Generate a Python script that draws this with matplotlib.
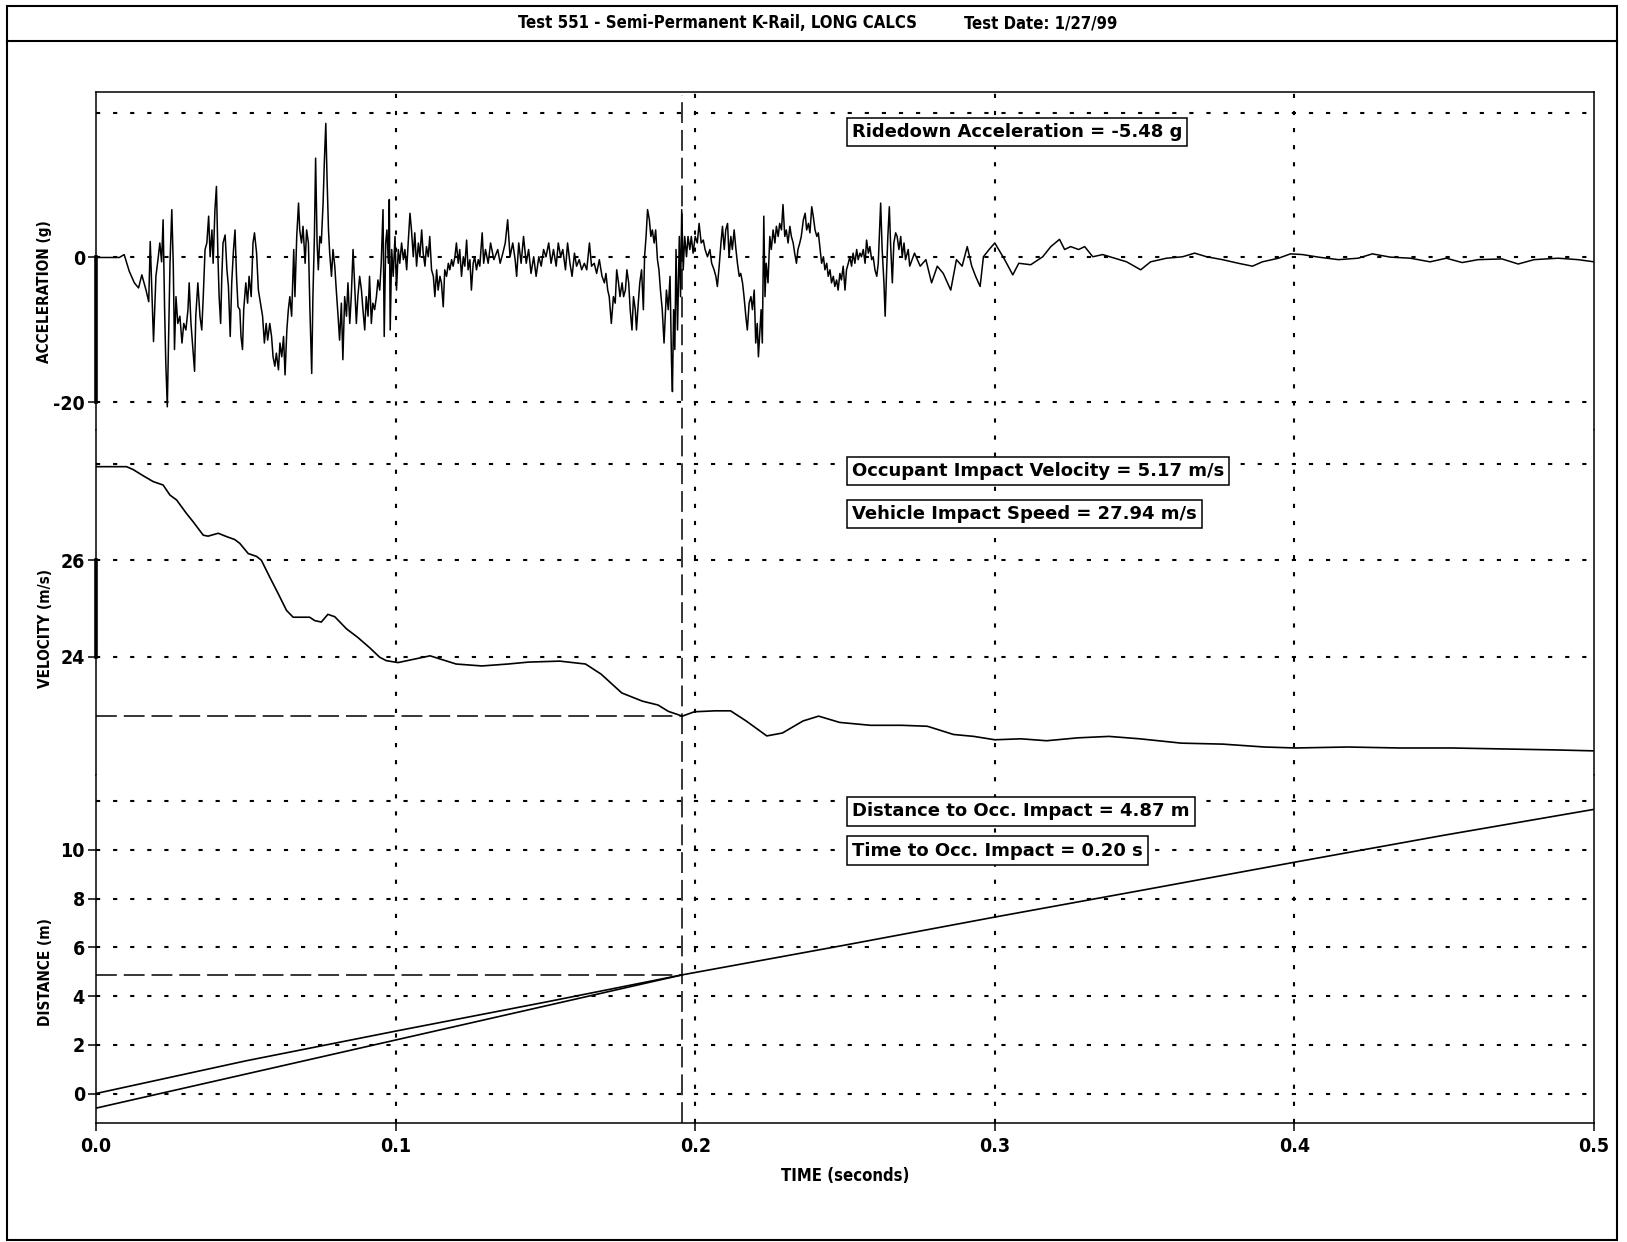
import matplotlib
matplotlib.use("Agg")
import matplotlib.pyplot as plt
from matplotlib.lines import Line2D
from matplotlib.patches import Rectangle
from matplotlib.transforms import blended_transform_factory

# ---- Test 551 channel data ----
# Acceleration trace (g) against time (s)
acc_t = [0.0000, 0.0078, 0.0094, 0.0111, 0.0128, 0.0142, 0.0153, 0.0167, 0.0176, 0.0181,
         0.0187, 0.0192, 0.0200, 0.0208, 0.0213, 0.0219, 0.0224, 0.0229, 0.0233, 0.0238,
         0.0242, 0.0247, 0.0253, 0.0258, 0.0262, 0.0267, 0.0273, 0.0280, 0.0287, 0.0293,
         0.0300, 0.0307, 0.0311, 0.0317, 0.0322, 0.0329, 0.0333, 0.0340, 0.0347, 0.0353,
         0.0358, 0.0364, 0.0370, 0.0376, 0.0381, 0.0387, 0.0391, 0.0397, 0.0402, 0.0407,
         0.0411, 0.0416, 0.0420, 0.0424, 0.0431, 0.0437, 0.0442, 0.0448, 0.0453, 0.0459,
         0.0464, 0.0469, 0.0474, 0.0480, 0.0484, 0.0489, 0.0493, 0.0500, 0.0506, 0.0511,
         0.0518, 0.0524, 0.0529, 0.0536, 0.0542, 0.0549, 0.0556, 0.0562, 0.0568, 0.0573,
         0.0580, 0.0586, 0.0591, 0.0597, 0.0602, 0.0609, 0.0614, 0.0620, 0.0626, 0.0631,
         0.0637, 0.0642, 0.0647, 0.0653, 0.0660, 0.0664, 0.0670, 0.0676, 0.0680, 0.0686,
         0.0691, 0.0698, 0.0703, 0.0709, 0.0714, 0.0720, 0.0724, 0.0729, 0.0733, 0.0738,
         0.0742, 0.0747, 0.0752, 0.0758, 0.0762, 0.0767, 0.0771, 0.0776, 0.0780, 0.0786,
         0.0791, 0.0797, 0.0802, 0.0808, 0.0813, 0.0819, 0.0824, 0.0830, 0.0836, 0.0841,
         0.0847, 0.0852, 0.0858, 0.0863, 0.0869, 0.0874, 0.0880, 0.0886, 0.0891, 0.0897,
         0.0902, 0.0908, 0.0913, 0.0919, 0.0924, 0.0930, 0.0936, 0.0941, 0.0947, 0.0952,
         0.0958, 0.0962, 0.0967, 0.0971, 0.0976, 0.0979, 0.0982, 0.0987, 0.0992, 0.0998,
         0.1003, 0.1009, 0.1014, 0.1020, 0.1026, 0.1031, 0.1037, 0.1042, 0.1048, 0.1053,
         0.1059, 0.1064, 0.1070, 0.1076, 0.1081, 0.1087, 0.1092, 0.1098, 0.1103, 0.1109,
         0.1114, 0.1120, 0.1126, 0.1131, 0.1137, 0.1142, 0.1148, 0.1153, 0.1159, 0.1164,
         0.1170, 0.1176, 0.1181, 0.1187, 0.1192, 0.1198, 0.1203, 0.1209, 0.1214, 0.1220,
         0.1226, 0.1231, 0.1237, 0.1242, 0.1248, 0.1253, 0.1259, 0.1264, 0.1270, 0.1276,
         0.1281, 0.1289, 0.1294, 0.1300, 0.1309, 0.1317, 0.1328,
         0.1341, 0.1349, 0.1358, 0.1366, 0.1374, 0.1382, 0.1391, 0.1399, 0.1404, 0.1411,
         0.1419, 0.1427, 0.1436, 0.1444, 0.1452, 0.1461, 0.1469, 0.1478, 0.1486, 0.1494,
         0.1502, 0.1511, 0.1519, 0.1527, 0.1536, 0.1543, 0.1551, 0.1558, 0.1567, 0.1574,
         0.1582, 0.1589, 0.1597, 0.1604, 0.1613, 0.1621, 0.1630, 0.1638, 0.1647, 0.1654,
         0.1663, 0.1671, 0.1680, 0.1689, 0.1697, 0.1702, 0.1708, 0.1713, 0.1720, 0.1727,
         0.1733, 0.1738, 0.1744, 0.1749, 0.1756, 0.1761, 0.1767, 0.1772, 0.1778, 0.1783,
         0.1789, 0.1794, 0.1800, 0.1804, 0.1810, 0.1815, 0.1821, 0.1827, 0.1831, 0.1836,
         0.1841, 0.1847, 0.1852, 0.1857, 0.1863, 0.1868, 0.1874, 0.1879, 0.1884, 0.1890,
         0.1896, 0.1900, 0.1904, 0.1910, 0.1916, 0.1921, 0.1924, 0.1928, 0.1932, 0.1936,
         0.1941, 0.1947, 0.1951, 0.1955, 0.1960, 0.1965, 0.1971, 0.1976, 0.1982, 0.1987,
         0.1993, 0.2000, 0.2007, 0.2013, 0.2020, 0.2027, 0.2033, 0.2041, 0.2049, 0.2055,
         0.2063, 0.2069, 0.2074, 0.2080, 0.2086, 0.2091, 0.2097, 0.2102, 0.2108, 0.2113,
         0.2119, 0.2124, 0.2130, 0.2136, 0.2141, 0.2147, 0.2152, 0.2158, 0.2163, 0.2169,
         0.2174, 0.2180, 0.2186, 0.2191, 0.2197, 0.2202, 0.2207, 0.2211, 0.2215, 0.2220,
         0.2224, 0.2229, 0.2233, 0.2237, 0.2243, 0.2249, 0.2254, 0.2260, 0.2266, 0.2271,
         0.2277, 0.2282, 0.2288, 0.2293, 0.2299, 0.2304, 0.2310, 0.2316, 0.2321, 0.2327,
         0.2332, 0.2338, 0.2343, 0.2349, 0.2354, 0.2361, 0.2367, 0.2372, 0.2378, 0.2383,
         0.2389, 0.2394, 0.2400, 0.2406, 0.2411, 0.2417, 0.2422, 0.2428, 0.2433, 0.2439,
         0.2444, 0.2450, 0.2455, 0.2461, 0.2466, 0.2472, 0.2477, 0.2483, 0.2488, 0.2494,
         0.2500, 0.2505, 0.2511, 0.2516, 0.2522, 0.2527, 0.2533, 0.2539, 0.2544, 0.2550,
         0.2555, 0.2561, 0.2567, 0.2572, 0.2578, 0.2583, 0.2589, 0.2594, 0.2600, 0.2606,
         0.2611, 0.2619, 0.2624, 0.2630, 0.2634, 0.2639, 0.2643, 0.2648, 0.2652, 0.2658,
         0.2663, 0.2669, 0.2674, 0.2680, 0.2686, 0.2691, 0.2697, 0.2702, 0.2711,
         0.2716, 0.2732, 0.2751, 0.2770, 0.2789, 0.2808, 0.2828, 0.2853, 0.2872, 0.2891,
         0.2908, 0.2923, 0.2936, 0.2951, 0.2962, 0.2981, 0.3000,
         0.3033, 0.3060, 0.3080, 0.3120, 0.3160, 0.3187, 0.3216, 0.3233, 0.3253, 0.3280,
         0.3300, 0.3327, 0.3360, 0.3400, 0.3440, 0.3487, 0.3520, 0.3573, 0.3627, 0.3667,
         0.3707, 0.3760, 0.3813, 0.3860, 0.3893, 0.3947, 0.3987, 0.4027, 0.4080, 0.4147,
         0.4213, 0.4260, 0.4320, 0.4387, 0.4453, 0.4507, 0.4560, 0.4613, 0.4693, 0.4747,
         0.4800, 0.4880, 0.4947, 0.5000]
acc_g = [0.0, 0.0, 0.4, -1.9, -3.5, -4.2, -2.4, -4.5, -6.1, 2.2,
         -5.4, -11.6, -2.6, 0.1, 2.0, -0.6, 5.2, -7.2, -14.6, -20.6,
         -11.8, -0.8, 6.6, -1.2, -12.7, -5.4, -9.1, -8.1, -11.8, -9.1,
         -10.0, -7.2, -3.5, -9.1, -11.8, -15.7, -8.1, -3.5, -8.1, -10.0,
         -5.4, 1.1, 2.0, 5.7, 0.1, 3.8, -0.8, 6.6, 9.8, 0.1,
         -5.4, -9.1, -2.6, 2.0, 3.1, -1.7, -4.0, -10.9, -3.5, 1.1,
         3.8, -2.6, -6.8, -7.2, -10.9, -12.7, -7.2, -3.5, -6.3, -2.6,
         -5.4, 2.0, 3.4, 0.6, -4.5, -6.3, -8.1, -11.8, -9.1, -11.4,
         -9.1, -10.9, -13.7, -15.0, -13.2, -15.5, -11.8, -13.7, -10.9, -16.2,
         -10.0, -7.2, -5.4, -8.1, 1.1, -5.4, 2.9, 7.5, 3.8, 2.0,
         4.3, -0.8, 3.8, 2.0, -7.2, -16.0, -5.4, 2.9, 13.7, 2.0,
         -1.7, 2.9, 2.0, 7.5, 13.0, 18.5, 11.2, 3.8, 0.6, -2.6,
         1.1, -1.2, -4.5, -8.1, -11.4, -6.3, -14.1, -5.4, -8.1, -3.5,
         -9.1, -5.4, 1.1, -3.5, -9.1, -5.4, -2.6, -4.5, -7.2, -10.0,
         -5.4, -8.1, -2.6, -9.1, -6.3, -7.2, -5.4, -3.1, -4.5, -0.8,
         6.6, -10.9, 2.0, 3.8, -0.8, 8.0, -10.0, 1.1, -2.6, 2.9,
         -4.5, 1.1, -0.8, 2.0, -0.3, 1.1, -1.7, 2.0, 6.1, 3.8,
         0.1, 3.4, -1.2, 2.0, 0.1, 3.8, 0.6, -1.2, 1.5, 0.1,
         2.9, -1.7, -2.6, -5.4, -1.7, -4.5, -2.6, -3.5, -6.8, -1.7,
         -2.6, -0.8, -1.7, -0.3, -1.2, 0.1, 2.0, -0.8, 1.1, -2.6,
         0.1, -1.2, 2.4, -1.7, -0.3, -4.5, -0.8, 0.1, -1.7, -0.3,
         -1.2, 3.4, -0.8, 1.1, -0.8, 2.0, -0.3,
         1.1, -0.8, 0.6, 2.0, 5.2, 0.1, 2.0, -0.3, -2.6, 2.0,
         -0.8, 2.9, -0.8, 1.1, -2.2, 0.1, -2.6, 0.1, -1.2, 1.1,
         0.1, 2.0, -0.8, 1.1, -1.2, 2.0, 0.1, 1.1, -1.7, 2.0,
         -0.8, -2.6, 0.6, -1.2, -0.3, -1.7, -0.8, -1.7, 2.0, -1.2,
         -0.8, -2.2, -0.3, -2.6, -3.5, -2.2, -4.5, -5.4, -9.1, -5.4,
         -6.3, -1.7, -3.5, -5.4, -3.5, -5.4, -4.5, -1.7, -3.5, -7.2,
         -10.0, -5.4, -7.2, -10.0, -6.3, -3.5, -1.7, -7.2, 0.1, 2.9,
         6.6, 5.2, 2.9, 3.8, 2.0, 3.8, -0.3, -1.7, -4.5, -7.2,
         -11.8, -8.1, -4.5, -7.2, -2.6, -14.6, -18.5, -7.2, -12.7, 1.1,
         -10.0, 2.9, -5.4, 6.6, -1.7, 2.9, 0.1, 2.9, 1.1, 2.9,
         0.6, 2.9, 2.0, 4.7, 2.0, 2.4, 1.1, 0.1, 1.1, -0.8,
         -1.7, -2.6, -4.0, -1.2, 2.0, 4.3, 1.1, 3.8, 4.7, 0.1,
         2.9, 1.1, 3.8, 1.1, -0.8, -2.6, -2.2, -3.5, -5.4, -8.1,
         -10.0, -6.3, -5.4, -7.2, -4.5, -11.8, -9.1, -13.7, -10.9, -7.2,
         -11.8, 5.7, -5.4, -0.8, -3.5, 2.9, 1.1, 3.8, 2.0, 4.3,
         2.9, 4.7, 3.8, 7.3, 2.9, 3.8, 2.0, 4.3, 2.9, 2.0,
         0.6, -0.8, 1.1, 2.0, 2.9, 5.2, 6.1, 3.8, 4.7, 3.4,
         7.0, 5.7, 3.8, 2.9, 3.4, 1.1, -0.8, 0.1, -1.7, -0.8,
         -2.6, -1.7, -3.5, -2.6, -4.0, -3.1, -4.5, -2.2, -3.1, -1.2,
         -4.5, -1.7, -0.8, 0.1, -1.2, 0.6, -0.8, 1.1, -0.3, 0.6,
         0.1, 1.1, -0.8, 2.4, 0.6, 1.5, -0.3, 0.1, -1.7, -2.6,
         -0.8, 7.5, 1.1, -3.5, -8.1, -1.7, 2.9, 7.0, 2.0, -3.5,
         2.0, 3.4, 2.9, 1.1, 2.9, 0.1, 2.0, -0.3, 1.1,
         -1.2, 0.6, -1.2, -0.3, -3.5, -1.2, -2.2, -4.5, -0.3, -1.2,
         1.5, -1.2, -2.6, -4.0, 0.1, 1.1, 2.0,
         -0.3, -2.4, -0.8, -1.0, 0.1, 1.5, 2.5, 1.1, 1.5, 1.1,
         1.5, 0.1, 0.4, -0.1, -0.6, -1.7, -0.6, -0.1, 0.1, 0.6,
         0.1, -0.3, -0.8, -1.2, -0.6, -0.1, 0.5, 0.4, 0.05, -0.3,
         -0.1, 0.5, 0.05, -0.1, -0.6, -0.1, -0.7, -0.3, -0.2, -0.9,
         -0.3, -0.1, -0.3, -0.6]

# Vehicle velocity (m/s)
vel_t = [0.0000, 0.0102, 0.0124, 0.0158, 0.0191, 0.0224, 0.0247, 0.0269, 0.0302, 0.0324,
         0.0358, 0.0374, 0.0408, 0.0436, 0.0463, 0.0480, 0.0508, 0.0536, 0.0552, 0.0580,
         0.0608, 0.0636, 0.0658, 0.0713, 0.0730, 0.0752, 0.0774, 0.0797, 0.0836, 0.0874,
         0.0913, 0.0947, 0.0969, 0.1008, 0.1115, 0.1202, 0.1288, 0.1375, 0.1444, 0.1548,
         0.1634, 0.1686, 0.1755, 0.1824, 0.1876, 0.1910, 0.1957, 0.1997, 0.2066, 0.2118,
         0.2170, 0.2239, 0.2291, 0.2360, 0.2412, 0.2482, 0.2585, 0.2689, 0.2775, 0.2862,
         0.2930, 0.3000, 0.3087, 0.3173, 0.3277, 0.3381, 0.3484, 0.3623, 0.3761, 0.3900,
         0.4004, 0.4177, 0.4350, 0.4523, 0.4696, 0.4869, 0.5000]
vel_v = [27.94, 27.94, 27.88, 27.75, 27.63, 27.56, 27.35, 27.25, 26.97, 26.80,
         26.52, 26.50, 26.56, 26.49, 26.43, 26.35, 26.14, 26.08, 26.00, 25.65,
         25.31, 24.96, 24.82, 24.82, 24.75, 24.72, 24.88, 24.83, 24.58, 24.40,
         24.19, 23.99, 23.92, 23.88, 24.02, 23.85, 23.81, 23.85, 23.89, 23.91,
         23.85, 23.64, 23.25, 23.08, 23.00, 22.87, 22.77, 22.86, 22.88, 22.88,
         22.67, 22.36, 22.42, 22.67, 22.77, 22.64, 22.58, 22.58, 22.56, 22.39,
         22.35, 22.28, 22.30, 22.26, 22.32, 22.35, 22.30, 22.21, 22.19, 22.13,
         22.11, 22.13, 22.11, 22.11, 22.09, 22.07, 22.05]

# Vehicle displacement and occupant free-flight line (m)
dist_t = [0.0, 0.05, 0.10, 0.15, 0.1957, 0.25, 0.30, 0.35, 0.40, 0.45, 0.50]
dist_m = [0.0, 1.34, 2.56, 3.75, 4.87, 6.09, 7.24, 8.36, 9.49, 10.60, 11.66]
occ_t = [0.0, 0.1957]
occ_m = [-0.6, 4.87]

# Summary values
ImpactSpeed = 27.94
OIV = 5.17
RidedownAcc = -5.48
OccDistance = 4.87
OccTime = 0.1957

acc_grid = [20, 0, -20]
acc_ticks = [0, -20]
vel_grid = [28, 26, 24]
vel_ticks = [26, 24]
dist_grid = [12, 10, 8, 6, 4, 2, 0]
dist_ticks = [10, 8, 6, 4, 2, 0]
time_ticks = [0.0, 0.1, 0.2, 0.3, 0.4, 0.5]

# ---- Layout (pixels of a 1627 x 1242 sheet) ----
plt.rcParams['lines.scale_dashes'] = False
NARROW = dict(family=['Liberation Sans Narrow', 'DejaVu Sans'], fontstretch='condensed', fontweight='bold')
BOXFONT = ['DejaVu Sans']
W, H = 1627, 1242
Left, Right = 96, 1594
Bounds = [91.7, 430, 775, 1123]
GridStyle = (0, (3.0, 9.3))
LongDash = (0, (15.0, 5.0))
LW = 1.1


def fx(px):
    return px / W


def fy(py):
    return 1 - py / H


fig = plt.figure(figsize=(W / 100, H / 100), dpi=100)

Ylims = [(-23.8, 22.87), (21.55, 28.70), (-1.21, 13.07)]
Axes = []
for i in range(3):
    ax = fig.add_axes([fx(Left), fy(Bounds[i + 1]), fx(Right - Left), (Bounds[i + 1] - Bounds[i]) / H])
    ax.set_xlim(0, 0.5)
    ax.set_ylim(*Ylims[i])
    for s in ax.spines.values():
        s.set_linewidth(LW)
    if i > 0:
        ax.spines['top'].set_visible(False)
    if i < 2:
        ax.spines['bottom'].set_visible(False)
        ax.set_xticks([])
    ax.tick_params(axis='y', direction='out', length=6, width=LW, pad=2, labelsize=14)
    Axes.append(ax)

AxA, AxV, AxD = Axes

for ax, grid, ticks in [(AxA, acc_grid, acc_ticks), (AxV, vel_grid, vel_ticks), (AxD, dist_grid, dist_ticks)]:
    for g in grid:
        ax.axhline(g, color='black', lw=1.5, linestyle=GridStyle, zorder=1)
    ax.set_yticks(ticks)
    ax.set_yticklabels([str(t) for t in ticks], **NARROW)

# thick axis segments over the labelled range of each channel
AxA.plot([0, 0], [acc_ticks[-1], acc_ticks[0]], color='black', lw=2.6, clip_on=False, zorder=5)
AxV.plot([0, 0], [vel_ticks[-1], vel_ticks[0]], color='black', lw=2.6, clip_on=False, zorder=5)

AxD.set_xticks(time_ticks)
AxD.set_xticklabels(["%.1f" % t for t in time_ticks], **NARROW)
AxD.tick_params(axis='x', direction='out', length=6, width=LW, pad=4, labelsize=14)
AxD.set_xlabel("TIME (seconds)", fontsize=12, labelpad=8, **NARROW)

# vertical grid and impact-time marker run through all three channels
Blend = blended_transform_factory(AxD.transData, fig.transFigure)
for t in time_ticks[1:-1]:
    fig.add_artist(Line2D([t, t], [fy(Bounds[3]), fy(Bounds[0])], transform=Blend,
                          color='black', lw=1.5, linestyle=GridStyle, zorder=1))
fig.add_artist(Line2D([OccTime, OccTime], [fy(Bounds[3]), fy(Bounds[0] + 3)], transform=Blend,
                      color='black', lw=LW, linestyle=LongDash, zorder=3))

# traces
AxA.plot(acc_t, acc_g, color='black', lw=1.1, zorder=4)
AxV.plot(vel_t, vel_v, color='black', lw=1.2, zorder=4)
AxV.plot([0, OccTime], [ImpactSpeed - OIV] * 2, color='black', lw=LW, linestyle=LongDash, zorder=3)
AxD.plot(dist_t, dist_m, color='black', lw=1.2, zorder=4)
AxD.plot(occ_t, occ_m, color='black', lw=1.2, zorder=4)
AxD.plot([0, OccTime], [OccDistance] * 2, color='black', lw=LW, linestyle=LongDash, zorder=3)

# channel labels
for label, yc in [("ACCELERATION (g)", 292), ("VELOCITY (m/s)", 628), ("DISTANCE (m)", 972)]:
    fig.text(fx(45), fy(yc), label, rotation=90, ha='center', va='center', fontsize=11, **NARROW)

# summary boxes
Boxes = [("Ridedown Acceleration = %.2f g" % RidedownAcc, 132),
         ("Occupant Impact Velocity = %.2f m/s" % OIV, 471),
         ("Vehicle Impact Speed = %.2f m/s" % ImpactSpeed, 514),
         ("Distance to Occ. Impact = %.2f m" % OccDistance, 811.5),
         ("Time to Occ. Impact = %.2f s" % OccTime, 850.5)]
for text, yc in Boxes:
    fig.text(fx(852), fy(yc), text, ha='left', va='center', family=BOXFONT,
             fontweight='bold', fontsize=13, zorder=10,
             bbox=dict(boxstyle='square,pad=0.28', fc='white', ec='black', lw=LW))

# sheet frame and header
fig.add_artist(Rectangle((fx(7), fy(1240)), fx(1617 - 7), (1240 - 6) / H,
                         transform=fig.transFigure, fill=False, lw=1.5, color='black'))
fig.add_artist(Line2D([fx(7), fx(1617)], [fy(40.5), fy(40.5)], transform=fig.transFigure,
                      color='black', lw=1.5))
fig.text(fx(718), fy(23), "Test 551 - Semi-Permanent K-Rail, LONG CALCS", ha='center', va='center',
         fontsize=12, **NARROW)
fig.text(fx(1041), fy(23), "Test Date: 1/27/99", ha='center', va='center', fontsize=12, **NARROW)

fig.savefig('out.png', dpi=100)
